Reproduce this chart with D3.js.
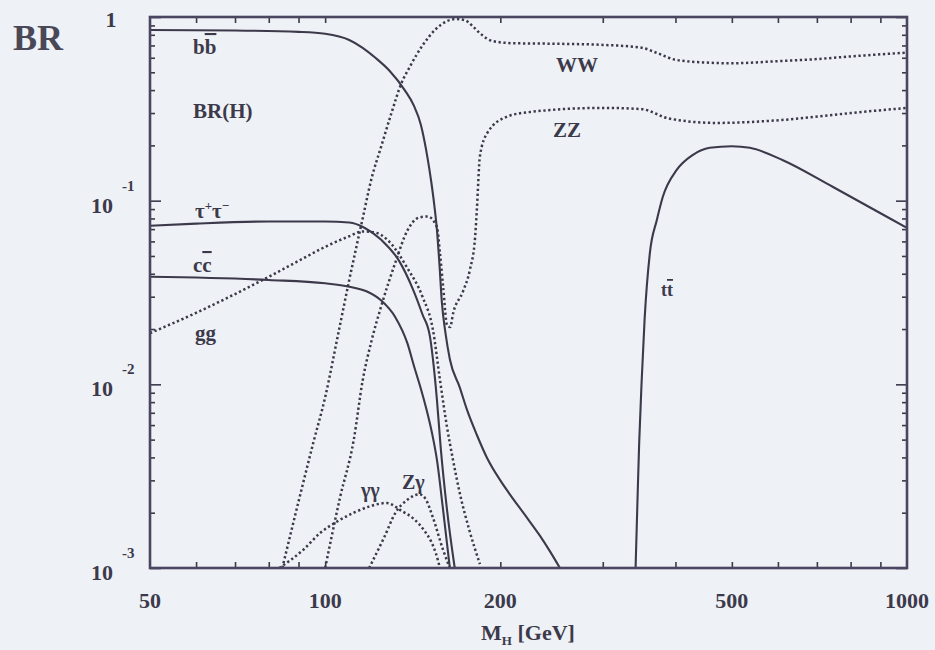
<!DOCTYPE html>
<html>
<head>
<meta charset="utf-8">
<script src="https://cdn.jsdelivr.net/npm/d3@7"></script>
<style>
body { margin: 0; background: #eef1f6; }
svg { display: block; font-family: "Liberation Serif", "DejaVu Serif", serif; font-weight: bold; }
</style>
</head>
<body>
<svg id="chart" width="935" height="650"></svg>
<script>

//Branching ratios: [M_H in GeV, BR]
var bbPoints = [[50,0.85],[70,0.845],[90,0.83],[100,0.81],[110,0.75],[116,0.68],[122,0.6],[129,0.51],[137,0.40],[142,0.33],[146,0.26],[150,0.17],[152,0.13],[154,0.095],[155.6,0.07],[157.2,0.045],[158.7,0.028],[161,0.019],[163.8,0.0137],[170.4,0.0096],[175.2,0.0073],[182.3,0.0053],[189.6,0.004],[200,0.003],[207.7,0.00252],[220.3,0.00195],[233.9,0.0015],[243.9,0.00122],[253.2,0.001]];
var tautauPoints = [[50,0.073],[60,0.075],[80,0.077],[100,0.077],[110,0.076],[117,0.071],[125,0.061],[134,0.047],[141.5,0.033],[147,0.024],[151.4,0.0182],[153.2,0.0137],[155.6,0.0083],[158.1,0.0044],[161.9,0.0021],[167,0.001]];
var ccPoints = [[50,0.0385],[80,0.037],[100,0.0355],[110,0.034],[118,0.032],[125,0.0285],[132,0.0232],[138.4,0.0168],[142.2,0.0125],[146,0.0095],[149.5,0.0072],[152.5,0.0055],[155.6,0.0039],[159.4,0.0021],[163.8,0.001]];
var ggPoints = [[50,0.019],[60,0.0245],[70,0.031],[80,0.0385],[90,0.047],[100,0.056],[110,0.064],[116,0.068],[122,0.067],[130,0.058],[138.4,0.043],[147,0.030],[153.2,0.0198],[157.5,0.0106],[161.9,0.0059],[165.8,0.0039],[170.4,0.00255],[177,0.0016],[184.5,0.00105]];
var wwPoints = [[84.4,0.001],[90,0.0023],[95.4,0.0048],[100,0.0085],[105,0.018],[110,0.037],[116,0.08],[120,0.13],[125,0.2],[130,0.3],[135,0.43],[140,0.54],[147,0.70],[155,0.86],[162,0.95],[168,0.975],[174,0.96],[180,0.88],[185,0.81],[194,0.74],[210,0.72],[250,0.715],[300,0.705],[350,0.68],[375,0.63],[400,0.585],[450,0.565],[500,0.56],[600,0.575],[700,0.59],[800,0.61],[1000,0.64]];
var zzPoints = [[100,0.001],[106,0.0024],[112,0.005],[116,0.0105],[120,0.017],[125,0.027],[132,0.046],[138.4,0.0686],[145,0.081],[150,0.082],[155.6,0.072],[157.5,0.052],[159.5,0.034],[162,0.021],[164,0.0205],[166,0.0245],[172.5,0.032],[177.3,0.042],[181,0.063],[182.3,0.09],[184.5,0.175],[190,0.234],[205,0.286],[225,0.304],[300,0.32],[350,0.315],[390,0.28],[470,0.265],[610,0.275],[800,0.30],[1000,0.32]];
var gamgamPoints = [[83.4,0.001],[91.8,0.00126],[98,0.00155],[104.8,0.00179],[112,0.002],[119,0.00216],[127.6,0.00226],[135.2,0.00205],[142,0.00185],[148,0.0016],[152,0.0014],[155,0.0012],[157.5,0.001]];
var zgamPoints = [[119,0.001],[126.2,0.00146],[132.1,0.002],[138.4,0.00235],[145,0.00252],[148.5,0.0024],[153.2,0.00188],[159.4,0.00126],[163.8,0.001]];
var ttPoints = [[341.6,0.001],[344,0.0022],[346.5,0.0048],[350,0.0106],[354,0.0225],[361.5,0.052],[371.6,0.0785],[380.5,0.105],[402,0.147],[428,0.177],[458,0.194],[500,0.198],[537,0.194],[612,0.166],[745,0.119],[945,0.0785],[1000,0.071]];

//Axis ticks
var xLabelTicks = [50,100,200,500,1000];
var xMinorTicks = [60,70,80,90,100,200,300,400,500,600,700,800,900];
var yMajorTicks = [0.001,0.01,0.1,1];
var yExponents = ["-3","-2","-1"];

var series = [
    {name: "bb", pts: bbPoints, dotted: false},
    {name: "tautau", pts: tautauPoints, dotted: false},
    {name: "cc", pts: ccPoints, dotted: false},
    {name: "tt", pts: ttPoints, dotted: false},
    {name: "gg", pts: ggPoints, dotted: true},
    {name: "WW", pts: wwPoints, dotted: true},
    {name: "ZZ", pts: zzPoints, dotted: true},
    {name: "gamgam", pts: gamgamPoints, dotted: true},
    {name: "Zgam", pts: zgamPoints, dotted: true}
];

var ink = "#3c3a4a";
var plotLeft = 150, plotRight = 907, plotTop = 17, plotBottom = 568;

var x = d3.scaleLog().domain([50,1000]).range([plotLeft,plotRight]);
var y = d3.scaleLog().domain([0.001,1]).range([plotBottom,plotTop]);

var svg = d3.select("#chart");

svg.append("defs").append("clipPath")
    .attr("id","plotclip")
    .append("rect")
    .attr("x",plotLeft)
    .attr("y",plotTop)
    .attr("width",plotRight - plotLeft)
    .attr("height",plotBottom - plotTop);

//Curves
var line = d3.line()
    .x(function(d) { return x(d[0]); })
    .y(function(d) { return y(d[1]); })
    .curve(d3.curveMonotoneX);

svg.append("g")
    .attr("clip-path","url(#plotclip)")
    .selectAll("path")
    .data(series)
    .enter()
    .append("path")
    .attr("d",function(d) { return line(d.pts); })
    .attr("fill","none")
    .attr("stroke",ink)
    .attr("stroke-width",function(d) { return d.dotted ? 2.5 : 2.1; })
    .attr("stroke-dasharray",function(d) { return d.dotted ? "2.3,2.6" : null; });

//Ticks (inward on all four sides)
function styleAxis(g) {
    g.select(".domain").remove();
    g.selectAll(".tick line").attr("stroke",ink).attr("stroke-width",1.6);
    g.selectAll("text").remove();
}
var yMinor = y.ticks().filter(function(d) { return yMajorTicks.indexOf(d) < 0; });

svg.append("g").attr("transform","translate(0," + plotBottom + ")")
    .call(d3.axisBottom(x).tickValues(xMinorTicks).tickSize(-6)).call(styleAxis);
svg.append("g").attr("transform","translate(0," + plotTop + ")")
    .call(d3.axisTop(x).tickValues(xMinorTicks).tickSize(-6)).call(styleAxis);
svg.append("g").attr("transform","translate(" + plotLeft + ",0)")
    .call(d3.axisLeft(y).tickValues(yMinor).tickSize(-5)).call(styleAxis);
svg.append("g").attr("transform","translate(" + plotLeft + ",0)")
    .call(d3.axisLeft(y).tickValues(yMajorTicks).tickSize(-11)).call(styleAxis);
svg.append("g").attr("transform","translate(" + plotRight + ",0)")
    .call(d3.axisRight(y).tickValues(yMinor).tickSize(-5)).call(styleAxis);
svg.append("g").attr("transform","translate(" + plotRight + ",0)")
    .call(d3.axisRight(y).tickValues(yMajorTicks).tickSize(-11)).call(styleAxis);

//Frame
svg.append("rect")
    .attr("x",plotLeft)
    .attr("y",plotTop)
    .attr("width",plotRight - plotLeft)
    .attr("height",plotBottom - plotTop)
    .attr("fill","none")
    .attr("stroke","#4a4560")
    .attr("stroke-width",2.6);

//Tick labels
svg.selectAll(".xlab")
    .data(xLabelTicks)
    .enter()
    .append("text")
    .attr("class","xlab")
    .attr("x",function(d) { return x(d); })
    .attr("y",plotBottom + 40)
    .attr("text-anchor","middle")
    .attr("font-size",22)
    .attr("fill",ink)
    .text(function(d) { return d; });

var ylab = svg.selectAll(".ylab")
    .data(yMajorTicks.slice(0,3))
    .enter()
    .append("g")
    .attr("class","ylab");
ylab.append("text")
    .attr("x",113)
    .attr("y",function(d) { return y(d) + 12; })
    .attr("text-anchor","end")
    .attr("font-size",22)
    .attr("fill",ink)
    .text("10");
ylab.append("text")
    .attr("x",122)
    .attr("y",function(d) { return y(d) - 10; })
    .attr("font-size",15)
    .attr("fill",ink)
    .text(function(d,i) { return yExponents[i]; });
svg.append("text")
    .attr("x",111)
    .attr("y",y(1) + 10)
    .attr("text-anchor","middle")
    .attr("font-size",22)
    .attr("fill",ink)
    .text("1");

svg.append("text")
    .attr("x",13)
    .attr("y",50)
    .attr("font-size",36)
    .attr("fill","#4a4856")
    .text("BR");

var xtitle = svg.append("text")
    .attr("x",528)
    .attr("y",640)
    .attr("text-anchor","middle")
    .attr("font-size",22)
    .attr("fill",ink);
xtitle.append("tspan").text("M");
xtitle.append("tspan").attr("font-size",13).attr("dy",5).text("H");
xtitle.append("tspan").attr("dy",-5).text(" [GeV]");

//Curve labels
function label(px, py, size) {
    return svg.append("text")
        .attr("x",px)
        .attr("y",py)
        .attr("font-size",size)
        .attr("fill",ink);
}
var bbLab = label(193,54,21);
bbLab.append("tspan").text("b");
bbLab.append("tspan").style("text-decoration","overline").text("b");
label(193,118,21).text("BR(H)");
var tauLab = label(195,218,21);
tauLab.append("tspan").text("τ");
tauLab.append("tspan").attr("font-size",13).attr("dy",-8).text("+");
tauLab.append("tspan").attr("dy",8).text("τ");
tauLab.append("tspan").attr("font-size",13).attr("dy",-8).text("−");
var ccLab = label(193,272,21);
ccLab.append("tspan").text("c");
ccLab.append("tspan").style("text-decoration","overline").text("c");
label(195,340,21).text("gg");
label(556,72,21).text("WW");
label(553,137,21).text("ZZ");
var ttLab = label(661,296,18);
ttLab.append("tspan").text("t");
ttLab.append("tspan").style("text-decoration","overline").text("t");
label(361,497,20).text("γγ");
label(402,489,20).text("Zγ");

</script>
</body>
</html>
